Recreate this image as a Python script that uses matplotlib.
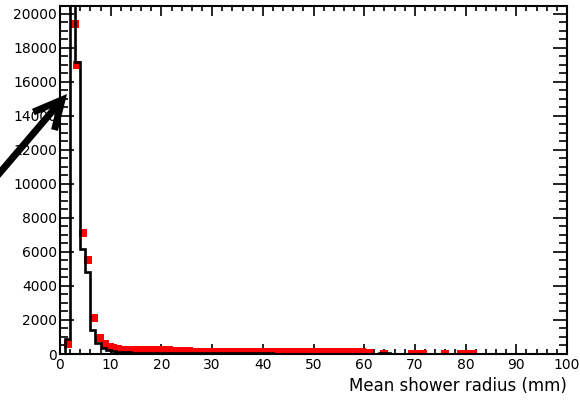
import numpy as np
import matplotlib
matplotlib.use("Agg")
import matplotlib.pyplot as plt
from matplotlib.patches import FancyArrowPatch
from matplotlib.ticker import MultipleLocator

# black histogram, 1 mm bins from 0 to 100 mm
edges = np.arange(0, 101, 1)
hist_counts = [0, 900, 24000, 17200, 6200, 4800, 1400, 650, 350, 220,
               160, 120, 100, 90, 80, 75, 70, 65, 60, 55,
               55, 50, 50, 45, 45, 45, 40, 40, 40, 40,
               40, 35, 35, 35, 35, 30, 30, 30, 30, 30,
               30, 30, 25, 25, 25, 25, 25, 25, 20, 20,
               20, 20, 20, 20, 20, 15, 15, 15, 15, 15,
               0, 10, 0, 60, 60, 0, 0, 0, 0, 0,
               0, 0, 0, 0, 0, 0, 0, 0, 0, 0,
               0, 0, 0, 0, 0, 0, 0, 0, 0, 0,
               0, 0, 0, 0, 0, 0, 0, 0, 0, 0]

# red points
red_x = [1.5, 2.9, 3.3, 4.5, 5.5, 6.8, 7.9, 8.9, 9.8,
         10.5, 11.5, 12.5, 13.5, 14.5, 15.5, 16.5, 17.5, 18.5, 19.5,
         20.5, 21.5, 22.5, 23.5, 24.5, 25.5, 26.5, 27.5, 28.5, 29.5,
         30.5, 31.5, 32.5, 33.5, 34.5, 35.5, 36.5, 37.5, 38.5, 39.5,
         40.5, 41.5, 42.5, 43.5, 44.5, 45.5, 46.5, 47.5, 48.5, 49.5,
         50.5, 51.5, 52.5, 53.5, 54.5, 55.5, 56.5, 57.5, 58.5, 59.5,
         61.0, 64.0, 69.5, 70.5, 71.5, 76.0, 79.0, 80.5, 81.5]
red_y = [600, 19400, 17000, 7100, 5500, 2100, 950, 600, 420,
         330, 300, 260, 250, 240, 240, 230, 230, 220, 220,
         210, 210, 200, 150, 150, 150, 140, 140, 140, 140,
         130, 130, 130, 130, 130, 120, 120, 120, 120, 120,
         120, 110, 110, 110, 110, 110, 110, 100, 100, 100,
         100, 100, 100, 100, 100, 90, 90, 90, 90, 90,
         30, 20, 20, 20, 20, 20, 20, 20, 20]

fig = plt.figure(figsize=(5.8, 4.01), dpi=100)
ax = fig.add_axes([60/580, 47/401, 507/580, 348/401])

ax.plot(red_x, red_y, 's', color='#ff0000', markersize=5.8, markeredgewidth=0, zorder=2)
ax.stairs(hist_counts, edges, color='black', linewidth=1.9, zorder=3)

ax.set_xlim(0, 100)
ax.set_ylim(0, 20470)
ax.xaxis.set_major_locator(MultipleLocator(10))
ax.xaxis.set_minor_locator(MultipleLocator(2))
ax.yaxis.set_major_locator(MultipleLocator(2000))
ax.yaxis.set_minor_locator(MultipleLocator(500))
ax.tick_params(axis='both', which='both', direction='in', top=True, right=True,
               width=1.2, labelsize=10)
ax.tick_params(axis='x', which='major', length=7, pad=3)
ax.tick_params(axis='x', which='minor', length=3.8)
ax.tick_params(axis='y', which='major', length=10, pad=2)
ax.tick_params(axis='y', which='minor', length=6)
for s in ax.spines.values():
    s.set_linewidth(1.5)

fig.text(567/580, 1 - 386/401, 'Mean shower radius (mm)', ha='right', va='center',
         fontsize=12)

# arrow pointing at the peak
arr = FancyArrowPatch((-20/580, 1 - 196/401), (67/580, 1 - 94/401),
                      transform=fig.transFigure, arrowstyle='->,head_length=20,head_width=10',
                      mutation_scale=1, color='black', linewidth=5, clip_on=False,
                      shrinkA=0, shrinkB=0, capstyle='butt', joinstyle='miter')
fig.patches.append(arr)

fig.savefig('out.png', dpi=100)
